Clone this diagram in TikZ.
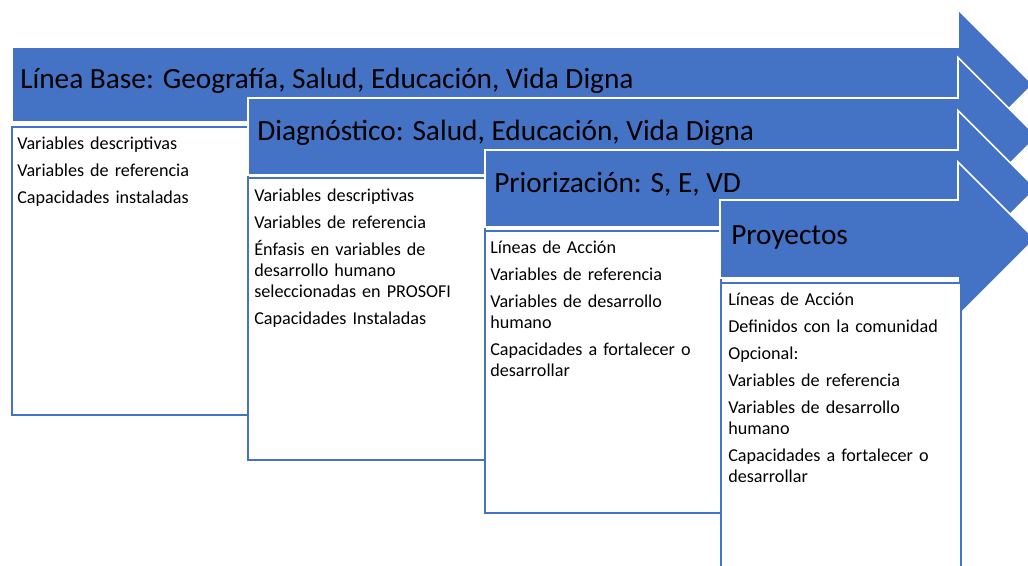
\documentclass[tikz,border=0pt]{standalone}
\usepackage{fontspec}
\setmainfont{Carlito}
\definecolor{ofblue}{HTML}{4472C4}
\newcommand\stagearrow[5]{%
  \draw[arrowshape] (#1,#2) -- (958,#2) -- (958,{(#2+#3)/2-#4})
    -- ({958+#4},{(#2+#3)/2}) -- (958,{(#2+#3)/2+#4}) -- (958,#3)
    -- (#1,#3) -- cycle;}
\begin{document}
\begin{tikzpicture}[x=0.75pt,y=-0.75pt,
  arrowshape/.style={fill=ofblue, draw=white, line width=1.2pt, line join=miter},
  listbox/.style={fill=white, draw=ofblue, line width=1.8pt},
  titletext/.style={anchor=base west, inner sep=0pt, font=\fontsize{22}{26}\selectfont},
  bodytext/.style={anchor=base west, inner sep=0pt, align=left, text width=175pt,
    font=\fontsize{13.6}{15.75}\selectfont}]
\useasboundingbox (0,0) rectangle (1028,565);
\clip (0,0) rectangle (1028,565);
\fill[white] (0,0) rectangle (1028,565);
% stage 1
\stagearrow{12}{47}{122}{75}{}
\draw[listbox] (12,127) rectangle (248,415);
\node[titletext] (t1) at (20,88) {Línea Base: Geografía, Salud, Educación, Vida Digna};
\node[bodytext] (b1) at (17,149) {Variables descriptivas\\[4.5pt]
Variables de referencia\\[4.5pt]
Capacidades instaladas};
% stage 2
\stagearrow{248}{98}{175}{79}{}
\draw[listbox] (248,178) rectangle (485,460);
\node[titletext] (t2) at (257,140) {Diagnóstico: Salud, Educación, Vida Digna};
\node[bodytext] (b2) at (254,201) {Variables descriptivas\\[4.5pt]
Variables de referencia\\[4.5pt]
Énfasis en variables de\\ desarrollo humano\\ seleccionadas en PROSOFI\\[4.5pt]
Capacidades Instaladas};
% stage 3
\stagearrow{485}{150}{227}{78}{}
\draw[listbox] (485,231) rectangle (721,513);
\node[titletext] (t3) at (494,192) {Priorización: S, E, VD};
\node[bodytext] (b3) at (490,253) {Líneas de Acción\\[4.5pt]
Variables de referencia\\[4.5pt]
Variables de desarrollo\\ humano\\[4.5pt]
Capacidades a fortalecer o\\ desarrollar};
% stage 4
\stagearrow{720}{200}{278}{77}{}
\draw[listbox] (721,283) rectangle (961,572);
\node[titletext] (t4) at (731,244) {Proyectos};
\node[bodytext] (b4) at (728,305) {Líneas de Acción\\[4.5pt]
Definidos con la comunidad\\[4.5pt]
Opcional:\\[4.5pt]
Variables de referencia\\[4.5pt]
Variables de desarrollo\\ humano\\[4.5pt]
Capacidades a fortalecer o\\ desarrollar};
\end{tikzpicture}
\end{document}
